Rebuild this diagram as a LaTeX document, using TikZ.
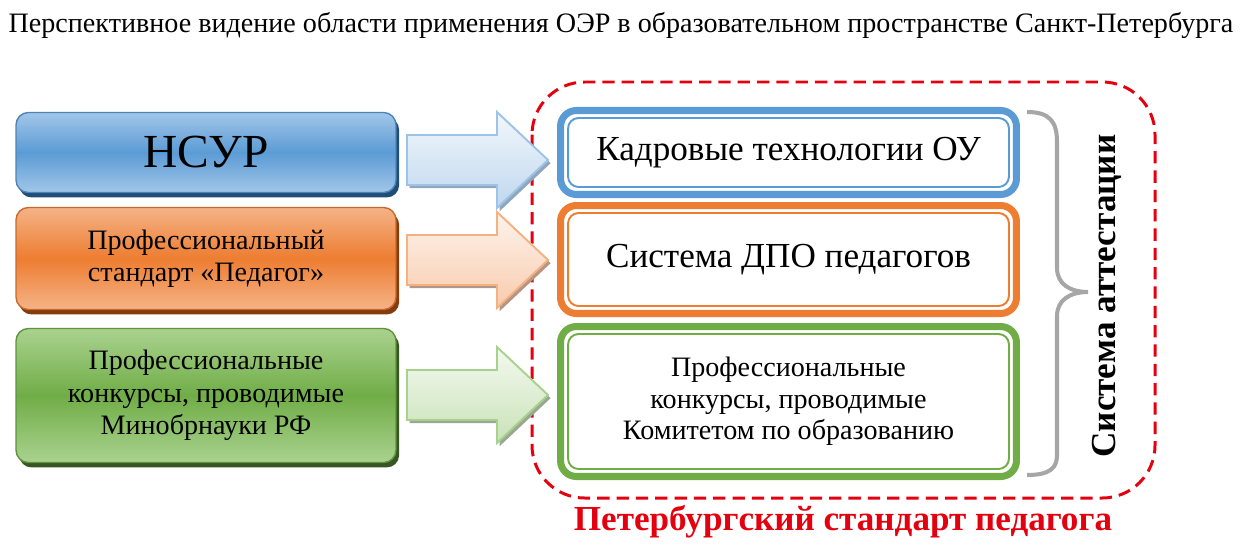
\documentclass[tikz,border=0pt]{standalone}
\usepackage{fontspec}
\setmainfont{Liberation Serif}
\usetikzlibrary{shadows}

\definecolor{bluemain}{HTML}{5B9BD5}
\definecolor{bluelight}{HTML}{A2C6E9}
\definecolor{blueshade}{HTML}{1F4E79}
\definecolor{bluearrowtop}{HTML}{F2F7FC}
\definecolor{bluearrowbot}{HTML}{BFD7EF}
\definecolor{bluearrowline}{HTML}{9DC3E6}
\definecolor{bluearrowshade}{HTML}{8FA6BE}
\definecolor{orangemain}{HTML}{ED7D31}
\definecolor{orangelight}{HTML}{F5B387}
\definecolor{orangeshade}{HTML}{843C0C}
\definecolor{orangearrowtop}{HTML}{FEF3EC}
\definecolor{orangearrowbot}{HTML}{F8CBAD}
\definecolor{orangearrowline}{HTML}{F4B183}
\definecolor{orangearrowshade}{HTML}{B39683}
\definecolor{greenmain}{HTML}{70AD47}
\definecolor{greenlight}{HTML}{AAD28F}
\definecolor{greenshade}{HTML}{375623}
\definecolor{greenarrowtop}{HTML}{F3F9EF}
\definecolor{greenarrowbot}{HTML}{C9E2B8}
\definecolor{greenarrowline}{HTML}{A9D18E}
\definecolor{greenarrowshade}{HTML}{9AA893}
\definecolor{framered}{HTML}{E3000F}
\definecolor{bracegray}{HTML}{A6A6A6}

\begin{document}
\begin{tikzpicture}[x=0.02cm, y=-0.02cm,
    lbox/.style={rounded corners=7pt, minimum width=7.6cm, align=center,
      draw=#1main!85!black, line width=0.8pt,
      top color=#1light, bottom color=#1light, middle color=#1main,
      drop shadow={shadow xshift=1.8pt, shadow yshift=-2.8pt, fill=#1shade, opacity=1},
      font=\fontsize{16}{18.5}\selectfont},
    rbox/.style={draw=#1main, line width=4pt, rounded corners=9pt, fill=white,
      minimum width=9.12cm, align=center, font=\fontsize{20}{22}\selectfont},
    rinner/.style={draw=#1main, line width=1.1pt, rounded corners=6pt},
    blockarrow/.style={line width=1.1pt, draw=#1arrowline,
      top color=#1arrowtop, bottom color=#1arrowbot,
      drop shadow={shadow xshift=1.5pt, shadow yshift=-1.8pt, fill=#1arrowshade, opacity=1}}]
  \useasboundingbox (0,0) rectangle (1243,558);

  \node[font=\fontsize{16}{18}\selectfont] (title) at (621,25)
    {Перспективное видение области применения ОЭР в образовательном пространстве Санкт-Петербурга};

  \draw[framered, line width=1.7pt, dash pattern=on 7pt off 4pt, rounded corners=30pt]
    (532,82) rectangle (1155,498);

  \foreach \n/\yc in {blue/160, orange/260, green/395}
    \filldraw[blockarrow=\n] (407,{\yc-25}) -- (497,{\yc-25}) -- (497,{\yc-48}) -- (548,\yc)
      -- (497,{\yc+48}) -- (497,{\yc+25}) -- (407,{\yc+25}) -- cycle;

  \node[lbox=blue, minimum height=1.6cm, font=\fontsize{27}{30}\selectfont] (nsur) at (206,152.5) {НСУР};
  \node[lbox=orange, minimum height=2.04cm] (profst) at (206,258.5) {Профессиональный\\стандарт «Педагог»};
  \node[lbox=green, minimum height=2.68cm] (konkrf) at (206,395.5) {Профессиональные\\конкурсы, проводимые\\Минобрнауки РФ};

  \node[rbox=blue, minimum height=1.68cm] (kadr) at (788.5,152.5) {Кадровые технологии ОУ};
  \node[rbox=orange, minimum height=2.16cm] (dpo) at (788.5,259.5) {Система ДПО педагогов};
  \node[rbox=green, minimum height=3cm, font=\fontsize{16}{18}\selectfont] (konkspb) at (788.5,401.5)
    {Профессиональные\\конкурсы, проводимые\\Комитетом по образованию};
  \foreach \b/\c in {kadr/blue, dpo/orange, konkspb/green}
    \draw[rinner=\c] ([shift={(11,11)}]\b.north west) rectangle ([shift={(-11,-11)}]\b.south east);

  \draw[bracegray, line width=2.3pt]
    (1027,112) .. controls (1050,112) and (1057,122) .. (1057,142) -- (1057,268)
    .. controls (1057,284) and (1070,292) .. (1088,292)
    .. controls (1070,292) and (1057,300) .. (1057,316) -- (1057,455)
    .. controls (1057,468) and (1050,475) .. (1027,475);

  \node[rotate=90, font=\bfseries\fontsize{20}{22}\selectfont] (attest) at (1107,296) {Система аттестации};
  \node[framered, font=\bfseries\fontsize{20}{22}\selectfont] (petst) at (843,522) {Петербургский стандарт педагога};
\end{tikzpicture}
\end{document}
